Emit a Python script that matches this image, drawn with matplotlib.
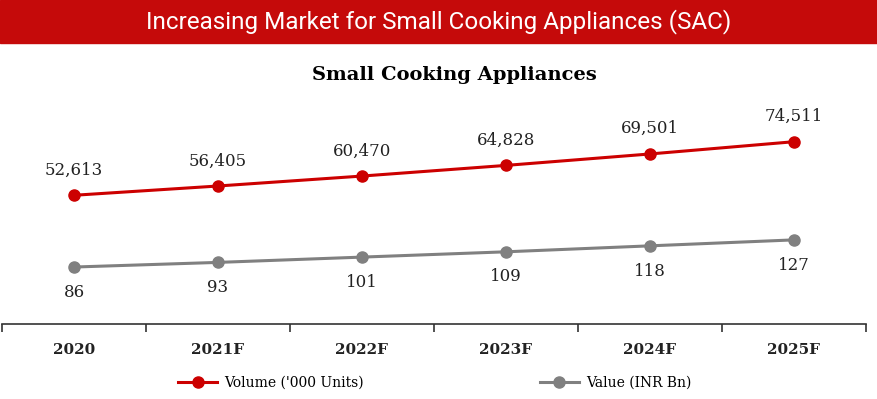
import numpy as np
import matplotlib.pyplot as plt
from matplotlib.patches import Rectangle
from matplotlib.lines import Line2D

years = ["2020", "2021F", "2022F", "2023F", "2024F", "2025F"]
volume = [52613, 56405, 60470, 64828, 69501, 74511]   # '000 units
value = [86, 93, 101, 109, 118, 127]                  # INR Bn

RED = "#CC0000"
GREY = "#808080"
TXT = "#222222"
SERIF = "DejaVu Serif"

fig = plt.figure(figsize=(8.78, 3.99), dpi=100)

# header banner
fig.patches.append(Rectangle((0, 0.892), 1, 0.108, transform=fig.transFigure,
                             color="#C50A0A", zorder=0))
fig.text(0.5, 0.946, "Increasing Market for Small Cooking Appliances (SAC)",
         ha="center", va="center", color="white", fontsize=17.5,
         family="Roboto", fontweight="normal")

fig.text(0.518, 0.812, "Small Cooking Appliances", ha="center", va="center",
         fontsize=14, fontweight="bold", family=SERIF, color="black")

ax = fig.add_axes([0.0023, 0.188, 0.984, 0.561])
ax2 = ax.twinx()
x = np.arange(len(years))

ax.plot(x, volume, color=RED, lw=2.2, marker="o", ms=8, zorder=3)
ax2.plot(x, value, color=GREY, lw=2.2, marker="o", ms=8, zorder=3)

ax.set_ylim(0, 91500)
ax2.set_ylim(0, 338)
ax.set_xlim(-0.5, len(years) - 0.5)

for xi, v in zip(x, volume):
    ax.annotate(f"{v:,}", (xi, v), xytext=(0, 12), textcoords="offset points",
                ha="center", va="bottom", fontsize=12, family=SERIF, color=TXT)
for xi, v in zip(x, value):
    ax2.annotate(f"{v}", (xi, v), xytext=(0, -12), textcoords="offset points",
                 ha="center", va="top", fontsize=12, family=SERIF, color=TXT)

for a in (ax, ax2):
    a.set_yticks([])
    for s in ("top", "left", "right"):
        a.spines[s].set_visible(False)
ax2.spines["bottom"].set_visible(False)
ax.spines["bottom"].set_color("#333333")
ax.spines["bottom"].set_linewidth(1.2)

# category labels centred, tick marks between categories
ax.set_xticks(x)
ax.set_xticklabels(years, fontsize=11, fontweight="bold", family=SERIF, color=TXT)
ax.tick_params(axis="x", length=0, pad=14)
ax.set_xticks(np.arange(len(years) + 1) - 0.5, minor=True)
ax.tick_params(axis="x", which="minor", length=6, width=1.2, color="#333333", direction="out")

handles = [Line2D([], [], color=RED, lw=2.2, marker="o", ms=8),
           Line2D([], [], color=GREY, lw=2.2, marker="o", ms=8)]
fig.legend(handles, ["Volume ('000 Units)", "Value (INR Bn)"], loc="center",
           bbox_to_anchor=(0.495, 0.04), ncol=2, frameon=False, columnspacing=12.7,
           handlelength=2.8, handletextpad=0.5,
           prop={"family": SERIF, "size": 10})

fig.savefig("out.png", dpi=100)
